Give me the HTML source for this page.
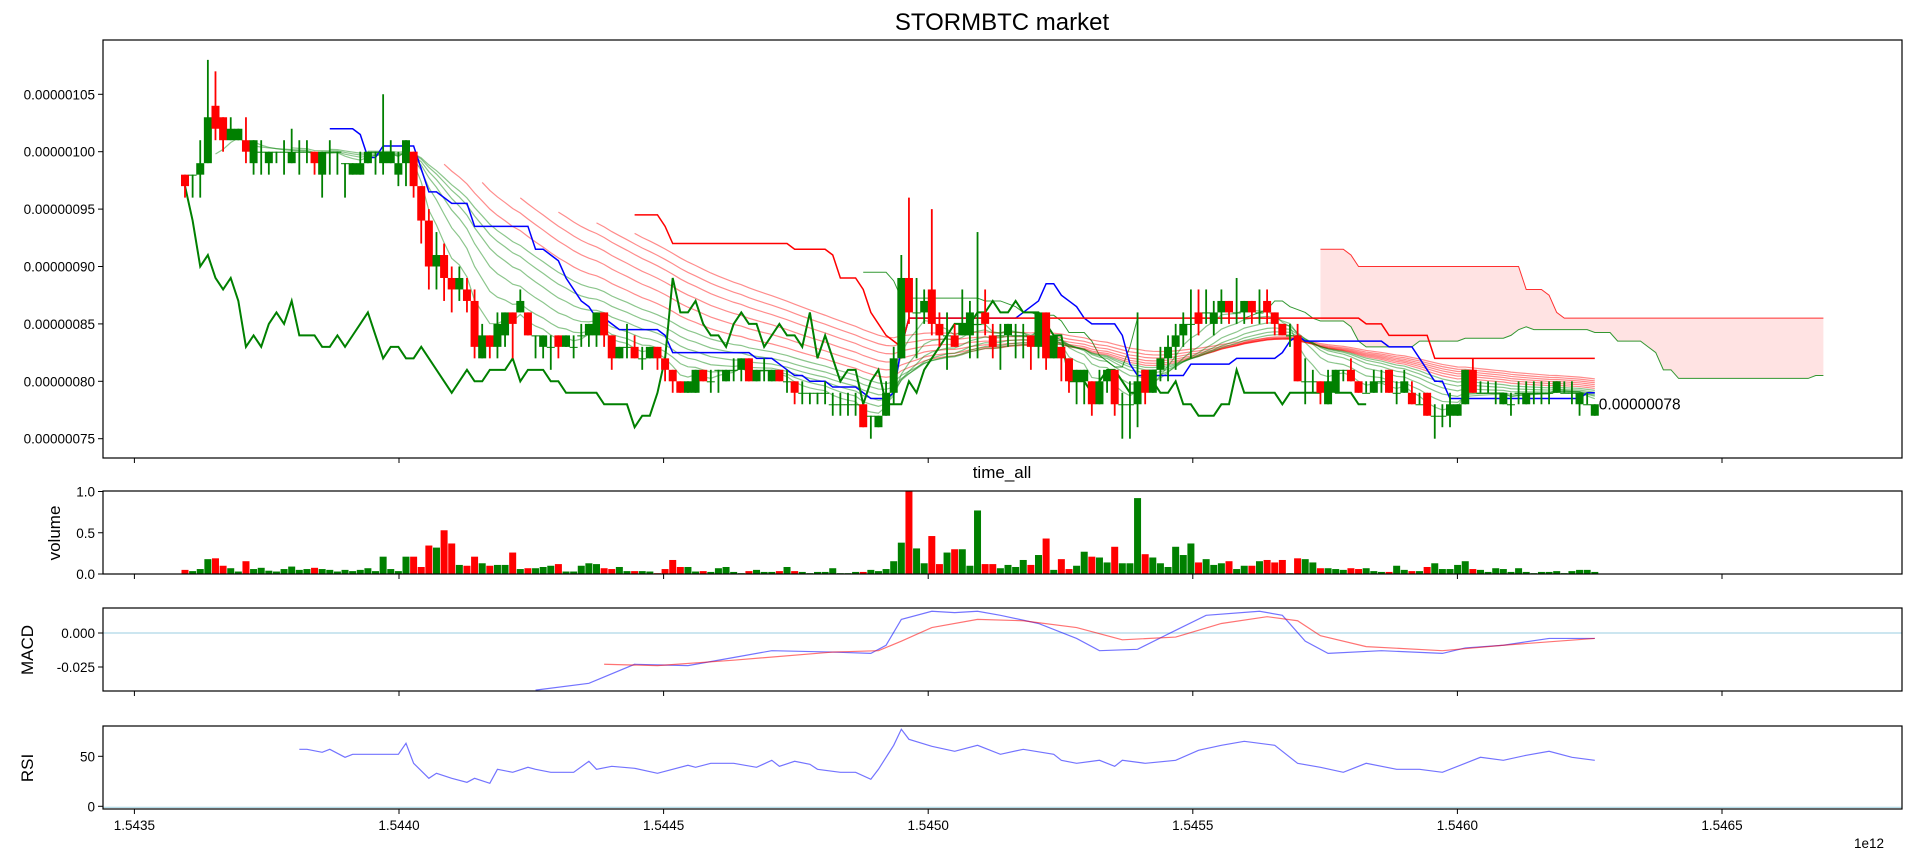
<!DOCTYPE html>
<html><head><meta charset="utf-8"><title>STORMBTC market</title>
<style>
html,body{margin:0;padding:0;background:#fff;}
svg{display:block;font-family:"Liberation Sans","DejaVu Sans",sans-serif;}
</style></head>
<body>
<svg id="chart" width="1918" height="862" viewBox="0 0 1918 862" xmlns="http://www.w3.org/2000/svg">
<text x="1002" y="30" font-size="24" text-anchor="middle" fill="#000">STORMBTC market</text>
<text x="1002" y="478" font-size="17" text-anchor="middle" fill="#000">time_all</text>
<text x="0" y="0" font-size="17" text-anchor="middle" transform="translate(60,533) rotate(-90)">volume</text>
<text x="0" y="0" font-size="17" text-anchor="middle" transform="translate(33,650) rotate(-90)">MACD</text>
<text x="0" y="0" font-size="17" text-anchor="middle" transform="translate(33,768) rotate(-90)">RSI</text>
<text x="1869" y="848" font-size="13.5" text-anchor="middle">1e12</text>
<g id="layer"></g>
</svg>
<script>
const opens=[98,98,98,99,104,103,101,101,101,99,100,99,100,100,99,100,100,100,98,100,100,99,98,98,99,100,99,99,98,99,100,97,94,90,91,89,88,88,87,82,84,83,84,86,86,86,84,83,83,84,83,83,84,84,84,86,84,82,83,83,82,82,83,82,81,80,79,79,81,80,81,80,81,81,82,80,81,80,81,80,80,79,79,79,79,78,78,78,78,78,77,76,77,79,82,89,86,86,88,85,84,84,84,84,85,86,84,84,84,84,84,84,83,86,82,83,82,80,80,80,78,80,81,78,78,78,81,79,81,82,83,84,85,86,86,85,86,87,86,86,87,86,87,86,85,84,84,80,80,80,78,79,81,81,80,79,79,80,81,79,79,79,78,79,77,77,77,77,78,81,79,79,79,78,78,79,78,79,79,79,79,79,79,78,78,77];
const closes=[97,98,99,103,102,101,102,102,100,101,100,100,100,100,100,100,100,99,100,100,100,99,99,99,100,100,100,100,99,101,97,94,90,91,89,88,89,87,83,84,83,85,86,85,87,84,84,84,83,83,84,83,84,85,86,84,82,83,83,82,82,83,82,81,80,79,80,81,80,80,81,81,81,82,80,81,81,81,80,80,79,79,79,79,79,78,78,78,78,76,77,77,79,82,89,86,86,87,85,84,84,83,85,86,85,85,83,84,85,84,84,83,86,82,84,82,80,81,81,78,80,81,78,78,78,80,79,81,82,83,84,85,85,85,86,86,87,86,86,87,86,86,86,85,84,84,80,80,80,79,80,81,81,80,79,79,80,80,79,79,80,78,78,77,77,77,78,78,81,79,79,79,79,79,78,79,79,79,79,79,80,79,79,79,78,78];
const highs=[98,98,101,108,107,103,103,102,103,101,101,100,100,101,102,101,101,100,100,101,100,99,99,100,100,100,105,101,100,101,100,97,95,93,92,90,90,89,88,85,84,86,86,86,88,86,84,84,84,84,84,84,85,85,86,86,84,83,85,84,83,83,83,82,81,80,80,81,81,81,81,81,82,82,82,81,82,81,81,81,80,80,79,79,80,79,79,79,79,78,77,77,80,83,91,96,89,88,95,86,86,85,88,87,93,88,85,85,85,85,85,84,86,86,84,83,82,81,81,80,81,81,81,79,80,86,81,81,83,84,85,86,88,88,88,87,88,87,89,87,87,88,88,86,85,85,85,82,81,80,81,81,81,82,80,80,81,81,81,80,81,80,79,79,78,78,79,78,81,82,80,80,80,79,79,80,80,80,80,80,80,80,80,79,79,78];
const lows=[96,96,96,99,101,100,101,101,99,98,98,98,99,98,99,98,99,98,96,98,98,96,98,98,99,98,98,99,97,97,96,92,88,88,87,86,87,86,82,82,82,82,83,82,86,84,82,82,81,82,83,82,83,83,83,83,81,82,82,82,81,82,81,80,79,79,79,79,80,79,79,80,80,80,80,80,80,80,80,79,78,78,78,78,78,77,77,77,77,76,75,76,77,78,82,85,82,85,84,83,81,83,84,82,82,84,82,81,83,82,82,81,82,81,82,80,79,78,78,77,78,79,77,75,75,76,78,79,80,80,81,83,82,84,85,84,85,85,85,85,85,85,85,84,84,83,80,78,79,78,78,79,80,80,79,79,79,79,79,78,79,78,78,77,75,76,76,77,78,79,79,79,78,78,77,78,78,78,78,78,79,79,78,77,78,77];
const volumes=[0.05,0.035,0.06,0.18,0.19,0.10,0.07,0.03,0.155,0.06,0.075,0.04,0.03,0.06,0.09,0.05,0.06,0.075,0.06,0.05,0.03,0.05,0.035,0.05,0.07,0.035,0.21,0.06,0.035,0.21,0.21,0.085,0.345,0.32,0.53,0.37,0.11,0.10,0.21,0.13,0.10,0.11,0.11,0.26,0.06,0.07,0.07,0.085,0.10,0.12,0.03,0.03,0.10,0.13,0.12,0.07,0.06,0.085,0.035,0.035,0.035,0.03,0.01,0.06,0.17,0.085,0.085,0.03,0.035,0.025,0.07,0.085,0.025,0.01,0.035,0.05,0.025,0.025,0.035,0.085,0.035,0.025,0.01,0.025,0.025,0.07,0.01,0.01,0.025,0.025,0.05,0.035,0.06,0.155,0.38,1.0,0.31,0.13,0.46,0.12,0.26,0.30,0.30,0.10,0.77,0.12,0.12,0.07,0.11,0.085,0.17,0.11,0.23,0.43,0.05,0.18,0.06,0.10,0.27,0.21,0.20,0.14,0.33,0.13,0.13,0.92,0.24,0.20,0.13,0.085,0.33,0.23,0.37,0.14,0.18,0.11,0.13,0.155,0.06,0.10,0.10,0.155,0.17,0.14,0.17,0.01,0.19,0.18,0.14,0.07,0.07,0.06,0.05,0.07,0.06,0.07,0.035,0.025,0.025,0.10,0.05,0.035,0.035,0.085,0.13,0.06,0.06,0.11,0.155,0.06,0.05,0.025,0.07,0.06,0.025,0.07,0.025,0.01,0.025,0.025,0.035,0.01,0.035,0.05,0.05,0.025];
const macdIdx=[46,53,59,66,72,77,85,90,92,94,98,101,104,107,112,117,120,125,130,134,141,144,147,150,157,165,168,173,179,185];
const macdVals=[-0.042,-0.037,-0.023,-0.024,-0.018,-0.013,-0.014,-0.015,-0.009,0.010,0.016,0.015,0.016,0.013,0.007,-0.004,-0.013,-0.012,0.002,0.013,0.016,0.013,-0.006,-0.015,-0.013,-0.015,-0.011,-0.009,-0.004,-0.004];
const signalIdx=[55,62,72,85,91,94,98,104,110,117,123,130,136,142,146,149,155,165,173,185];
const signalVals=[-0.023,-0.024,-0.020,-0.014,-0.013,-0.006,0.004,0.010,0.009,0.004,-0.005,-0.003,0.007,0.012,0.009,-0.002,-0.010,-0.013,-0.009,-0.004];
const rsiIdx=[15,16,18,19,21,22,24,28,29,30,32,33,35,37,38,40,41,43,45,46,48,51,53,54,56,59,62,66,67,69,72,75,77,78,80,82,83,86,88,90,91,93,94,95,98,101,104,107,110,114,115,117,120,122,123,126,130,133,136,139,143,146,149,152,155,159,162,165,168,170,173,176,179,182,185];
const rsiVals=[57,57,54,57,49,52,52,52,63,43,28,33,28,24,28,23,37,34,39,37,34,34,45,37,40,38,33,41,39,43,43,39,46,40,45,42,37,34,34,27,37,61,77,67,60,55,61,52,57,52,46,43,46,40,46,43,46,56,61,65,61,43,39,34,43,37,37,34,43,49,46,51,55,49,46];
const xTickVals=[1.5435,1.5440,1.5445,1.5450,1.5455,1.5460,1.5465];
const priceTicks=[75,80,85,90,95,100,105];
const volTicks=[0.0,0.5,1.0];
const macdTicks=[-0.025,0.000];
const rsiTicks=[0,50];
const lastLabel='0.00000078';

const NS='http://www.w3.org/2000/svg';
const L=103,R=1902;
const mainP={t:40,b:458}, volP={t:491,b:574}, macP={t:608,b:691}, rsiP={t:726,b:809};
const T0=1.5435e12, PXPER=264.6/5e8, X0=134.4, STEP=14400000;
const firstT=T0+(185-X0)/PXPER;
function xT(t){return X0+(t-T0)*PXPER;}
function xI(i){return xT(firstT+i*STEP);}
function yP(p){return 151.7+(100-p)*11.48;}
function yV(v){return 574-v*82.5;}
function yM(v){return 633-v*1360;}
function yR(v){return 806.3-v*1.0;}
const layer=document.getElementById('layer');
function el(tag,attrs,parent){const e=document.createElementNS(NS,tag);for(const k in attrs)e.setAttribute(k,attrs[k]);(parent||layer).appendChild(e);return e;}
function fmt8(p){return (p/1e8).toFixed(8);}
function pathFrom(idx,vals,fy){let d='';for(let k=0;k<idx.length;k++){if(vals[k]==null)continue;d+=(d?'L':'M')+xI(idx[k]).toFixed(2)+','+fy(vals[k]).toFixed(2);}return d;}
function seqPath(vals,fy,shift){let d='';for(let i=0;i<vals.length;i++){if(vals[i]==null)continue;d+=(d?'L':'M')+xI(i+shift).toFixed(2)+','+fy(vals[i]).toFixed(2);}return d;}

const defs=el('defs',{});
[['cMain',mainP],['cVol',volP],['cMac',macP],['cRsi',rsiP]].forEach(([id,p])=>{const c=el('clipPath',{id:id},defs);el('rect',{x:L,y:p.t,width:R-L,height:p.b-p.t},c);});

const N=closes.length;
function ema(p){const out=new Array(N).fill(null);if(N<p)return out;let s=0;for(let i=0;i<p;i++)s+=closes[i];let v=s/p;out[p-1]=v;const a=2/(p+1);for(let i=p;i<N;i++){v=a*closes[i]+(1-a)*v;out[i]=v;}return out;}
function mid(p){const out=new Array(N).fill(null);for(let i=p-1;i<N;i++){let h=-1e9,l=1e9;for(let j=i-p+1;j<=i;j++){h=Math.max(h,highs[j]);l=Math.min(l,lows[j]);}out[i]=(h+l)/2;}return out;}
const tenkan=mid(20), kijun=mid(60), spanBraw=mid(120);
const spanAraw=tenkan.map((v,i)=>(v!=null&&kijun[i]!=null)?(v+kijun[i])/2:null);

const gMain=el('g',{'clip-path':'url(#cMain)'});



const SH=30;
const cloudPts=[];
for(let i=0;i<N;i++){if(spanAraw[i]!=null&&spanBraw[i]!=null)cloudPts.push(i);}
if(cloudPts.length){let d='';cloudPts.forEach((i,k)=>{d+=(k?'L':'M')+xI(i+SH).toFixed(2)+','+yP(spanBraw[i]).toFixed(2);});for(let k=cloudPts.length-1;k>=0;k--){const i=cloudPts[k];d+='L'+xI(i+SH).toFixed(2)+','+yP(spanAraw[i]).toFixed(2);}d+='Z';
const cloud=el('path',{d:d,fill:'rgba(255,0,0,0.11)',stroke:'none'},gMain);

}
const sB=el('path',{d:seqPath(spanBraw,yP,SH),fill:'none',stroke:'#ff0000','stroke-width':1,'stroke-opacity':0.8},gMain);


const sA=el('path',{d:seqPath(spanAraw,yP,SH),fill:'none',stroke:'#008000','stroke-width':1,'stroke-opacity':0.8},gMain);



[35,40,45,50,55,60].forEach(p=>{const e=el('path',{d:seqPath(ema(p),yP,0),fill:'none',stroke:'#ff0000','stroke-width':1.2,'stroke-opacity':0.45},gMain);

});
[5,10,15,20,25,30].forEach(p=>{const e=el('path',{d:seqPath(ema(p),yP,0),fill:'none',stroke:'#008000','stroke-width':1.2,'stroke-opacity':0.45},gMain);

});

const tk=el('path',{d:seqPath(tenkan,yP,0),fill:'none',stroke:'#0000ff','stroke-width':1.5},gMain);


const kj=el('path',{d:seqPath(kijun,yP,0),fill:'none',stroke:'#ff0000','stroke-width':1.5},gMain);


const chik=closes.slice(SH);
const ck=el('path',{d:seqPath(chik,yP,0),fill:'none',stroke:'#008000','stroke-width':2},gMain);



for(let i=0;i<N;i++){
  const o=opens[i],c=closes[i];const col=c<o?'#ff0000':'#008000';const x=xI(i);
  const w=el('line',{x1:x,x2:x,y1:yP(highs[i]),y2:yP(lows[i]),stroke:col,'stroke-width':1.8},gMain);
  
  
  const yt=yP(Math.max(o,c)),yb=yP(Math.min(o,c));
  const b=el('rect',{x:x-4,y:yt,width:8,height:Math.max(yb-yt,1),fill:col},gMain);
  
  
}
const ll=el('text',{x:xI(N-1)+4,y:yP(closes[N-1])+5,'font-size':15.5,fill:'#000'});
ll.textContent=lastLabel;



const gVol=el('g',{'clip-path':'url(#cVol)'});


for(let i=0;i<N;i++){const col=closes[i]<opens[i]?'#ff0000':'#008000';
  const b=el('rect',{x:xI(i)-3.5,y:yV(volumes[i]),width:7,height:yV(0)-yV(volumes[i]),fill:col},gVol);
  
  }

const gMac=el('g',{'clip-path':'url(#cMac)'});


const z=el('line',{x1:L,x2:R,y1:yM(0),y2:yM(0),stroke:'#add8e6','stroke-width':1.2},gMac);


const mL=el('path',{d:pathFrom(macdIdx,macdVals,yM),fill:'none',stroke:'#0000ff','stroke-opacity':0.55,'stroke-width':1.2},gMac);


const sL=el('path',{d:pathFrom(signalIdx,signalVals,yM),fill:'none',stroke:'#ff0000','stroke-opacity':0.55,'stroke-width':1.2},gMac);



const gR=el('g',{'clip-path':'url(#cRsi)'});


const rz=el('line',{x1:L,x2:R,y1:yR(0)+1,y2:yR(0)+1,stroke:'#add8e6','stroke-width':1.2},gR);


const rL=el('path',{d:pathFrom(rsiIdx,rsiVals,yR),fill:'none',stroke:'#0000ff','stroke-opacity':0.55,'stroke-width':1.2},gR);



function frame(p,name){const r=el('rect',{x:L,y:p.t,width:R-L,height:p.b-p.t,fill:'none',stroke:'#000','stroke-width':1.2});
  
  
  xTickVals.forEach(v=>{const x=xT(v*1e12);const t=el('line',{x1:x,x2:x,y1:p.b,y2:p.b+5,stroke:'#000','stroke-width':1});
    
    });}
frame(mainP,'price-axes-frame');frame(volP,'volume-axes-frame');frame(macP,'macd-axes-frame');frame(rsiP,'rsi-axes-frame');
function yTicks(vals,fy,fmt,name){vals.forEach(v=>{const y=fy(v);const t=el('line',{x1:L-5,x2:L,y1:y,y2:y,stroke:'#000','stroke-width':1});
  
  
  const tx=el('text',{x:L-8,y:y+5,'font-size':13.5,'text-anchor':'end',fill:'#000'});tx.textContent=fmt(v);
  
  });}
yTicks(priceTicks,yP,fmt8,'price-y');
yTicks(volTicks,yV,v=>v.toFixed(1),'volume-y');
yTicks(macdTicks,yM,v=>v.toFixed(3),'macd-y');
yTicks(rsiTicks,yR,v=>String(v),'rsi-y');
xTickVals.forEach(v=>{const tx=el('text',{x:xT(v*1e12),y:830,'font-size':13.5,'text-anchor':'middle',fill:'#000'});tx.textContent=v.toFixed(4);
  
  });
</script>
</body></html>
